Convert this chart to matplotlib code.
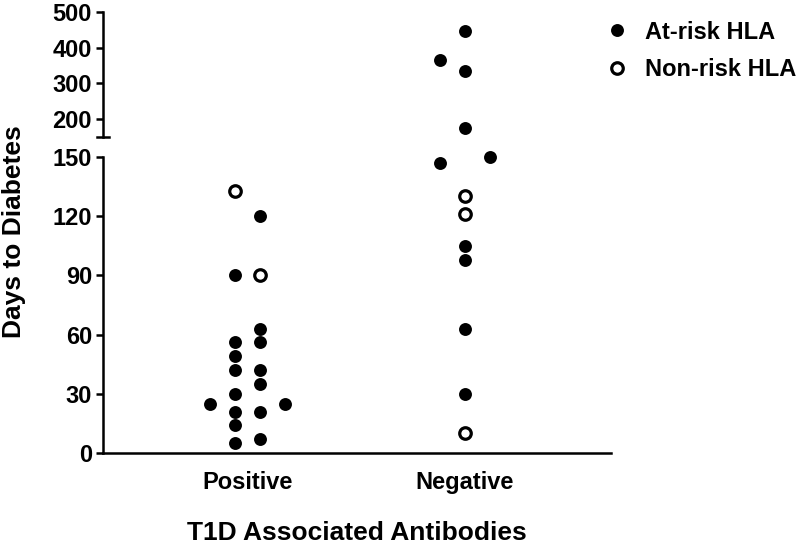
import numpy as np
import matplotlib
matplotlib.use("Agg")
import matplotlib.pyplot as plt
from matplotlib.lines import Line2D

plt.rcParams['font.family'] = ['Liberation Sans', 'DejaVu Sans']
plt.rcParams['font.weight'] = 'bold'

# ============================================================
# Data
# ============================================================

groups = ["Positive", "Negative"]

# T1D antibody positive
pos_at_risk = [120, 90, 63, 56, 42, 35, 21, 7, 56, 49, 42, 30, 21, 14, 5, 25, 25]
pos_at_risk_slot = [1, -1, 1, 1, 1, 1, 1, 1, -1, -1, -1, -1, -1, -1, -1, -3, 3]
pos_non_risk = [133, 90]
pos_non_risk_slot = [-1, 1]

# T1D antibody negative
neg_at_risk = [448, 365, 335, 174, 147, 150, 105, 98, 63, 30]
neg_at_risk_slot = [0, -2, 0, 0, -2, 2, 0, 0, 0, 0]
neg_non_risk = [130, 121, 10]
neg_non_risk_slot = [0, 0, 0]

lower_ticks = [0, 30, 60, 90, 120, 150]
upper_ticks = [200, 300, 400, 500]

BREAK = 150
SLOT_W = 0.0576

# ============================================================
# Figure
# ============================================================

W, H = 800, 545
fig = plt.figure(figsize=(W / 100, H / 100), dpi=100)


def px_axes(left, top, right, bottom):
    return fig.add_axes([left / W, 1 - bottom / H, (right - left) / W, (bottom - top) / H])


ax_lo = px_axes(103, 157, 611, 453)
ax_hi = px_axes(103, 12, 611, 137)

for ax in (ax_lo, ax_hi):
    ax.set_xlim(-0.668, 1.673)
    for s in ("top", "right"):
        ax.spines[s].set_visible(False)
    ax.spines["left"].set_linewidth(1.8)
    ax.tick_params(axis="y", length=5, width=1.8, labelsize=17, pad=3)
    ax.patch.set_alpha(0)

ax_lo.set_ylim(0, BREAK)
ax_lo.set_yticks(lower_ticks)
ax_lo.spines["bottom"].set_linewidth(1.8)
ax_lo.set_xticks([0, 1])
ax_lo.set_xticklabels(groups)
ax_lo.tick_params(axis="x", length=0, labelsize=17, pad=13)

ax_hi.set_ylim(BREAK, 500)
ax_hi.set_yticks(upper_ticks)
ax_hi.spines["bottom"].set_visible(False)
ax_hi.set_xticks([])
# break cap at the bottom of the upper segment
ax_hi.plot([-0.695, -0.641], [BREAK, BREAK], color="black", lw=1.8,
           clip_on=False, transform=ax_hi.transData)

filled = dict(marker="o", linestyle="none", markersize=9.3,
              markerfacecolor="black", markeredgewidth=0, clip_on=False)
hollow = dict(marker="o", linestyle="none", markersize=8.3,
              markerfacecolor="white", markeredgecolor="black",
              markeredgewidth=2.3, clip_on=False)


def draw(gx, values, slots, style):
    values = np.asarray(values, dtype=float)
    xs = gx + np.asarray(slots) * SLOT_W
    lo = values <= BREAK
    ax_lo.plot(xs[lo], values[lo], **style)
    ax_hi.plot(xs[~lo], values[~lo], **style)


draw(0, pos_at_risk, pos_at_risk_slot, filled)
draw(0, pos_non_risk, pos_non_risk_slot, hollow)
draw(1, neg_at_risk, neg_at_risk_slot, filled)
draw(1, neg_non_risk, neg_non_risk_slot, hollow)

fig.text(14 / W, 1 - 232 / H, "Days to Diabetes", rotation=90,
         ha="center", va="center", fontsize=19, fontweight="bold")
fig.text(357 / W, 1 - 533 / H, "T1D Associated Antibodies",
         ha="center", va="center", fontsize=19, fontweight="bold")

handles = [Line2D([], [], **{k: v for k, v in filled.items() if k != "clip_on"}),
           Line2D([], [], **{k: v for k, v in hollow.items() if k != "clip_on"})]
fig.legend(handles, ["At-risk HLA", "Non-risk HLA"],
           loc="center left", bbox_to_anchor=(593 / W, 1 - 51 / H),
           frameon=False, fontsize=17, handlelength=1.0,
           handletextpad=0.7, labelspacing=0.62, borderpad=0)

fig.savefig("out.png", dpi=100)
